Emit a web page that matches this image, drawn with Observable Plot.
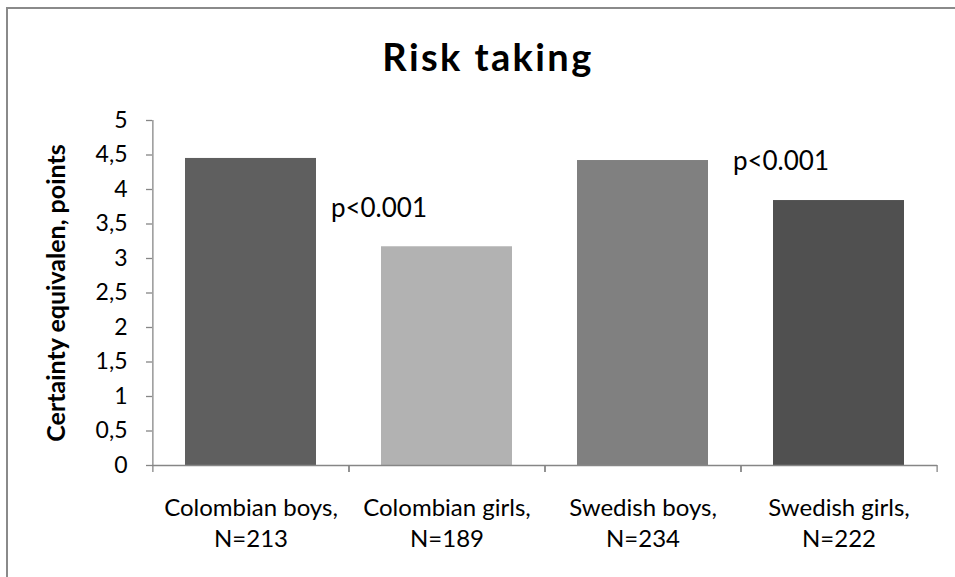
<!DOCTYPE html>
<html>
<head>
<meta charset="utf-8">
<script src="https://cdn.jsdelivr.net/npm/d3@7"></script>
<script src="https://cdn.jsdelivr.net/npm/@observablehq/plot@0.6"></script>
<style>
  html, body { margin: 0; padding: 0; overflow: hidden; background: #fff; }
  #wrap { position: relative; width: 955px; height: 577px; overflow: hidden; font-family: Lato, "Open Sans", sans-serif; }
  #border { position: absolute; left: 6px; top: 7px; width: 1200px; height: 900px; border-left: 2px solid #8a8a8a; border-top: 2px solid #8a8a8a; pointer-events: none; }
  #title { position: absolute; left: 0; top: 37px; width: 976px; text-align: center; font-weight: bold; font-size: 38px; letter-spacing: 2.4px; line-height: 1; color: #000; }
  #titlebox { position: relative; height: 100px; }
</style>
</head>
<body>
<div id="wrap">
  <div id="titlebox"><div id="title">Risk taking</div></div>
  <div id="chart"></div>
  <div id="border"></div>
</div>
<script>
// ---- data ----
const groups = ["Colombian boys", "Colombian girls", "Swedish boys", "Swedish girls"];
const sampleSizes = [213, 189, 234, 222];
const values = [4.45, 3.17, 4.42, 3.84];
const barColors = ["#5f5f5f", "#b2b2b2", "#808080", "#505050"];
const yTicks = [0, 0.5, 1, 1.5, 2, 2.5, 3, 3.5, 4, 4.5, 5];
const yLabel = "Certainty equivalen, points";
const pNotes = ["p<0.001", "p<0.001"];

const labels = groups.map((g, i) => `${g},\nN=${sampleSizes[i]}`);
const data = groups.map((g, i) => ({label: labels[i], value: values[i]}));

const W = 955, H = 477, ML = 152, MR = 18, MT = 20, MB = 112;
const halfStep = (W - ML - MR) / groups.length / 2;
const axisColor = "#868686";
const commaFmt = d => d3.format("~f")(d).replace(".", ",");

const chart = Plot.plot({
  width: W,
  height: H,
  marginLeft: ML,
  marginRight: MR,
  marginTop: MT,
  marginBottom: MB,
  style: {fontFamily: "Lato, 'Open Sans', sans-serif", color: "#000", background: "transparent"},
  x: {type: "band", domain: labels, paddingInner: 0.33, paddingOuter: 0.165, axis: null},
  y: {domain: [0, 5], axis: null},
  color: {domain: labels, range: barColors},
  marks: [
    Plot.barY(data, {x: "label", y: "value", fill: "label"}),
    // axis lines
    Plot.ruleY([0], {stroke: axisColor, strokeWidth: 1.3}),
    Plot.ruleX([labels[0]], {dx: -halfStep, y1: 0, y2: 5, stroke: axisColor, strokeWidth: 1.3}),
    // x boundary ticks
    Plot.axisX({anchor: "bottom", tickSize: 7, text: null, label: null, dx: -halfStep, stroke: axisColor, strokeWidth: 1.3}),
    Plot.axisX({anchor: "bottom", tickSize: 7, text: null, label: null, dx: halfStep, stroke: axisColor, strokeWidth: 1.3}),
    // x labels
    Plot.axisX({anchor: "bottom", tickSize: 0, tickPadding: 29, fontSize: 24, lineHeight: 1.29, lineAnchor: "top", label: null, fill: "#000"}),
    // y axis
    Plot.axisY({anchor: "left", ticks: yTicks, tickSize: 6, tickPadding: 19, tickFormat: commaFmt, fontSize: 23, label: null, stroke: axisColor, strokeWidth: 1.3, fill: "#000"}),
    Plot.text([yLabel], {frameAnchor: "left", text: d => d, rotate: -90, textAnchor: "middle", lineAnchor: "middle", dx: -96, fontSize: 25, fontWeight: "bold", fill: "#000"}),
    // p-value annotations
    Plot.text([pNotes[0]], {x: () => labels[1], y: () => 3.72, text: d => d, dx: -18 - halfStep, textAnchor: "start", fontSize: 26, fill: "#000"}),
    Plot.text([pNotes[1]], {x: () => labels[3], y: () => 4.41, text: d => d, dx: -8 - halfStep, textAnchor: "start", fontSize: 26, fill: "#000"})
  ]
});
document.getElementById("chart").appendChild(chart);
</script>
</body>
</html>
